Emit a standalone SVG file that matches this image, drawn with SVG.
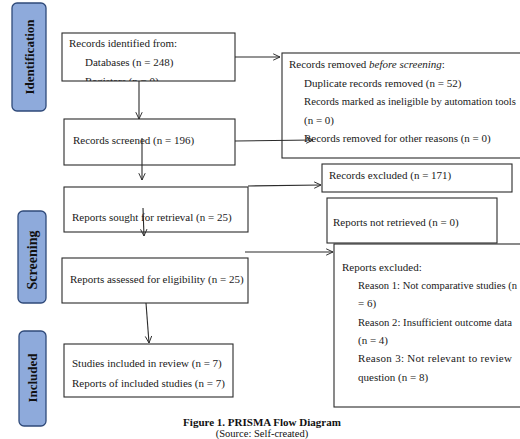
<svg xmlns="http://www.w3.org/2000/svg" width="520" height="439" viewBox="0 0 520 439">
<style>
.bg{fill:#ffffff}
.box{fill:#ffffff;stroke:#2b2b2b;stroke-width:1.1}
.lab{fill:#8eaadb;stroke:#2f4a7a;stroke-width:1.3}
.t{font-family:"Liberation Serif","Times New Roman",serif;font-size:11px;fill:#1a1a1a}
.lt{font-family:"Liberation Serif","Times New Roman",serif;font-size:13px;font-weight:bold;fill:#111}
.cap{font-family:"Liberation Serif","Times New Roman",serif;font-size:11px;fill:#111;text-anchor:middle}
.con{fill:none;stroke:#2b2b2b;stroke-width:1.1}
</style>
<defs>
<marker id="arr" viewBox="0 0 10 10" refX="9.5" refY="5" markerWidth="8" markerHeight="8" orient="auto" markerUnits="userSpaceOnUse">
<path d="M1,1 L9.5,5 L1,9" fill="none" stroke="#2b2b2b" stroke-width="1.2"/>
</marker>
<clipPath id="c1"><rect x="62" y="33" width="173" height="48"/></clipPath>
</defs>
<rect class="bg" x="0" y="0" width="520" height="439"/>

<g id="label-identification">
<rect class="lab" x="12" y="3" width="34" height="108" rx="5"/>
<text class="lt" transform="translate(29,57) rotate(-90)" text-anchor="middle" dominant-baseline="central">Identification</text>
</g>
<g id="label-screening">
<rect class="lab" x="18" y="211" width="28" height="92" rx="5"/>
<text class="lt" style="font-size:14px" transform="translate(32,260) rotate(-90)" text-anchor="middle" dominant-baseline="central">Screening</text>
</g>
<g id="label-included">
<rect class="lab" x="19" y="331" width="27" height="95" rx="5"/>
<text class="lt" transform="translate(32.5,378) rotate(-90)" text-anchor="middle" dominant-baseline="central">Included</text>
</g>

<g id="identified">
<rect class="box" x="62" y="33" width="173" height="48"/>
<text class="t" x="69" y="47">Records identified from:</text>
<text class="t" x="85" y="66">Databases (n = 248)</text>
<g clip-path="url(#c1)"><text class="t" x="85" y="84.5">Registers (n = 0)</text></g>
</g>

<g id="removed">
<rect class="box" x="282" y="53" width="250" height="105"/>
<text class="t" x="289" y="68">Records removed <tspan font-style="italic">before screening</tspan>:</text>
<text class="t" x="304" y="86.5">Duplicate records removed (n = 52)</text>
<text class="t" x="304" y="105" textLength="212" lengthAdjust="spacingAndGlyphs">Records marked as ineligible by automation tools</text>
<text class="t" x="304" y="123.5">(n = 0)</text>
<text class="t" x="304" y="142">Records removed for other reasons (n = 0)</text>
</g>

<g id="screened">
<rect class="box" x="64" y="119" width="171" height="46"/>
<text class="t" x="73" y="144">Records screened (n = 196)</text>
</g>

<g id="excluded">
<rect class="box" x="322" y="164" width="190" height="28"/>
<text class="t" x="329" y="179">Records excluded (n = 171)</text>
</g>

<g id="sought">
<rect class="box" x="64" y="187" width="184" height="45"/>
<text class="t" x="72" y="221">Reports sought for retrieval (n = 25)</text>
</g>

<g id="not-retrieved">
<rect class="box" x="327" y="198" width="170" height="45"/>
<text class="t" x="333" y="225.5">Reports not retrieved (n = 0)</text>
</g>

<g id="assessed">
<rect class="box" x="62" y="258" width="186" height="45"/>
<text class="t" x="70" y="283">Reports assessed for eligibility (n = 25)</text>
</g>

<g id="reports-excluded">
<rect class="box" x="334" y="244" width="200" height="163"/>
<text class="t" x="342" y="271">Reports excluded:</text>
<text class="t" x="358" y="289" textLength="159" lengthAdjust="spacingAndGlyphs">Reason 1: Not comparative studies (n</text>
<text class="t" x="358" y="307.3">= 6)</text>
<text class="t" x="358" y="325.6" textLength="154" lengthAdjust="spacingAndGlyphs">Reason 2: Insufficient outcome data</text>
<text class="t" x="358" y="344">(n = 4)</text>
<text class="t" x="358" y="362.3" textLength="154" lengthAdjust="spacing">Reason 3: Not relevant to review</text>
<text class="t" x="358" y="380.6">question (n = 8)</text>
</g>

<g id="included">
<rect class="box" x="64" y="344" width="169" height="53"/>
<text class="t" x="72" y="366.5">Studies included in review (n = 7)</text>
<text class="t" x="72" y="387">Reports of included studies (n = 7)</text>
</g>

<g id="connectors">
<line class="con" x1="235" y1="57" x2="280" y2="57" marker-end="url(#arr)"/>
<line class="con" x1="139" y1="81" x2="139" y2="119" marker-end="url(#arr)"/>
<line class="con" x1="235" y1="141" x2="313" y2="140" marker-end="url(#arr)"/>
<line class="con" x1="142" y1="138" x2="142" y2="180" marker-end="url(#arr)"/>
<line class="con" x1="248" y1="186" x2="321" y2="185" marker-end="url(#arr)"/>
<line class="con" x1="143" y1="208" x2="144" y2="236" marker-end="url(#arr)"/>
<line class="con" x1="245" y1="252" x2="333" y2="252" marker-end="url(#arr)"/>
<line class="con" x1="146" y1="303" x2="149" y2="343" marker-end="url(#arr)"/>
</g>

<g id="caption">
<text class="cap" x="262" y="426" font-weight="bold">Figure 1. PRISMA Flow Diagram</text>
<text class="cap" x="262" y="437" style="font-size:10.5px">(Source: Self-created)</text>
</g>
</svg>
